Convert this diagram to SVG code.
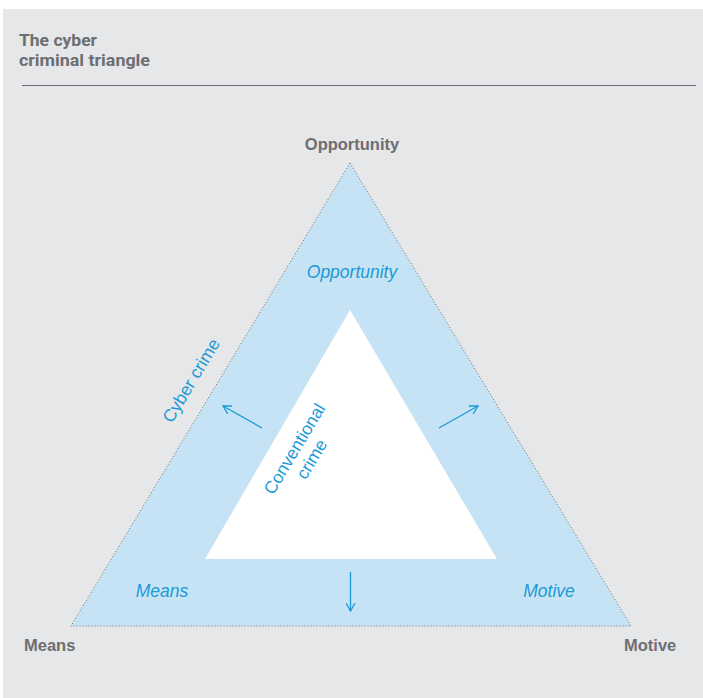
<svg xmlns="http://www.w3.org/2000/svg" width="703" height="698" viewBox="0 0 703 698">
<defs>
<style>
.title{font-family:"Roboto","Liberation Sans",sans-serif;font-weight:bold;font-size:16px;fill:#6d6e71}
.corner{font-family:"Liberation Sans",Arial,sans-serif;font-weight:bold;font-size:16.5px;fill:#6d6e71}
.blue{font-family:"Liberation Sans",Arial,sans-serif;font-style:italic;font-size:17.5px;fill:#1b9ad7}
.rot{font-family:"Liberation Sans",Arial,sans-serif;font-size:17.5px;fill:#1b9ad7}
.arrow{stroke:#1b9ad7;stroke-width:1.3;fill:none;marker-end:url(#head)}
</style>
<marker id="head" viewBox="0 0 10 10" refX="9" refY="5" markerWidth="10" markerHeight="10" markerUnits="userSpaceOnUse" orient="auto">
<path d="M1,0.5 L9,5 L1,9.5" fill="none" stroke="#1b9ad7" stroke-width="1.3"/>
</marker>
</defs>
<rect x="0" y="0" width="703" height="698" fill="#ffffff"/>
<rect x="3" y="9" width="700" height="689" fill="#e6e7e9"/>
<g id="title">
<text class="title" x="19" y="46" textLength="78" lengthAdjust="spacingAndGlyphs">The cyber</text>
<text class="title" x="19" y="66" textLength="131" lengthAdjust="spacingAndGlyphs">criminal triangle</text>
<line x1="22" y1="85.5" x2="696" y2="85.5" stroke="#6d6e71" stroke-width="1"/>
</g>
<g id="outer-triangle">
<polygon points="350,163 631,626 71,626" fill="#c5e3f4" stroke="#6d6e71" stroke-width="1" stroke-dasharray="1 2"/>
</g>
<g id="inner-triangle">
<polygon points="350,310 497,559 205,559" fill="#ffffff"/>
</g>
<g id="connectors">
<line class="arrow" x1="262" y1="428" x2="223" y2="406"/>
<line class="arrow" x1="439" y1="428" x2="478" y2="406"/>
<line class="arrow" x1="350.5" y1="572" x2="350.5" y2="611"/>
</g>
<g id="node-opportunity">
<text class="corner" x="352" y="150" text-anchor="middle">Opportunity</text>
</g>
<g id="node-means">
<text class="corner" x="24" y="651">Means</text>
</g>
<g id="node-motive">
<text class="corner" x="624" y="651">Motive</text>
</g>
<g id="labels-cyber">
<text class="blue" x="352" y="278" text-anchor="middle">Opportunity</text>
<text class="blue" x="162" y="597" text-anchor="middle">Means</text>
<text class="blue" x="549" y="597" text-anchor="middle">Motive</text>
<text class="rot" transform="translate(192,381) rotate(-59)" text-anchor="middle" y="5">Cyber crime</text>
</g>
<g id="label-conventional">
<text class="rot" transform="translate(303,454) rotate(-59)" text-anchor="middle"><tspan x="0" y="-4">Conventional</tspan><tspan x="0" y="16">crime</tspan></text>
</g>
</svg>
